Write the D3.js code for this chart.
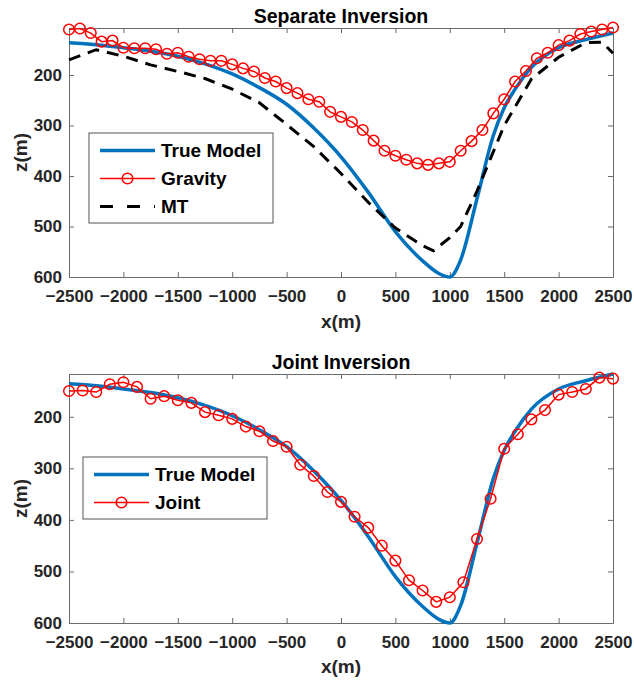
<!DOCTYPE html>
<html>
<head>
<meta charset="utf-8">
<script src="https://cdn.jsdelivr.net/npm/d3@7"></script>
<style>
body { margin: 0; background: #fff; }
text { font-family: "Liberation Sans", Arial, sans-serif; font-weight: bold; }
</style>
</head>
<body>
<div id="chart"></div>
<script>
// tick labels
var xTicks = [-2500, -2000, -1500, -1000, -500, 0, 500, 1000, 1500, 2000, 2500];
var zTicks = [200, 300, 400, 500, 600];

// true model (interface depth)
var trueX = [-2500, -2250, -2000, -1750, -1500, -1250, -1000, -750, -500, -250, 0, 250, 500, 750, 900, 1000, 1100, 1250, 1400, 1500, 1600, 1750, 2000, 2250, 2500];
var trueZ = [136, 140, 146, 153, 163, 178, 198, 225, 258, 305, 362, 432, 510, 568, 593, 600, 566, 445, 320, 265, 228, 185, 146, 130, 117];

// gravity separate inversion
var gravX = [-2500, -2400, -2300, -2200, -2100, -2000, -1900, -1800, -1700, -1600, -1500, -1400, -1300, -1200, -1100, -1000, -900, -800, -700, -600, -500, -400, -300, -200, -100, 0, 100, 200, 300, 400, 500, 600, 700, 800, 900, 1000, 1100, 1200, 1300, 1400, 1500, 1600, 1700, 1800, 1900, 2000, 2100, 2200, 2300, 2400, 2500];
var gravZ = [110, 108, 117, 134, 132, 146, 147, 147, 149, 158, 156, 164, 169, 172, 172, 179, 187, 193, 206, 213, 226, 236, 248, 253, 273, 283, 293, 309, 330, 350, 360, 368, 375, 378, 375, 372, 350, 331, 309, 276, 248, 213, 192, 167, 156, 141, 132, 119, 114, 110, 106];

// MT separate inversion
var mtX = [-2500, -2250, -2000, -1750, -1500, -1250, -1000, -750, -500, -250, 0, 250, 500, 750, 850, 1000, 1100, 1250, 1500, 1750, 2000, 2250, 2400, 2500];
var mtZ = [170, 150, 163, 180, 193, 207, 228, 255, 298, 342, 395, 452, 503, 538, 548, 522, 500, 430, 300, 208, 165, 136, 135, 157];

// joint inversion
var jointX = [-2500, -2375, -2250, -2125, -2000, -1875, -1750, -1625, -1500, -1375, -1250, -1125, -1000, -875, -750, -625, -500, -375, -250, -125, 0, 125, 250, 375, 500, 625, 750, 875, 1000, 1125, 1250, 1375, 1500, 1625, 1750, 1875, 2000, 2125, 2250, 2375, 2500];
var jointZ = [150, 149, 152, 137, 133, 142, 165, 160, 168, 173, 191, 197, 204, 219, 228, 247, 258, 293, 315, 346, 365, 394, 415, 450, 479, 517, 537, 559, 550, 521, 437, 359, 262, 234, 205, 187, 157, 152, 146, 124, 126];

var width = 634, height = 681;
var blue = '#0072BD', red = '#FF0000';

var svg = d3.select('#chart')
    .append('svg')
    .attr('width', width)
    .attr('height', height)
    .style('background', '#fff');

function drawPanel(p) {
    var x = d3.scaleLinear().domain([-2500, 2500]).range([69, 613]);
    var y = d3.scaleLinear().domain(p.zDomain).range([p.top, p.bottom]);
    var g = svg.append('g');

    // axes with inward ticks on all four sides
    var gx = g.append('g').attr('transform', 'translate(0,' + p.bottom + ')')
        .call(d3.axisBottom(x).tickValues(xTicks).tickFormat(d3.format('d'))
            .tickSizeInner(-5).tickSizeOuter(0).tickPadding(13));
    g.append('g').attr('transform', 'translate(0,' + p.top + ')')
        .call(d3.axisTop(x).tickValues(xTicks).tickSizeInner(-5).tickSizeOuter(0).tickFormat(''));
    var gy = g.append('g').attr('transform', 'translate(69,0)')
        .call(d3.axisLeft(y).tickValues(zTicks).tickFormat(d3.format('d'))
            .tickSizeInner(-5).tickSizeOuter(0).tickPadding(7));
    g.append('g').attr('transform', 'translate(613,0)')
        .call(d3.axisRight(y).tickValues(zTicks).tickSizeInner(-5).tickSizeOuter(0).tickFormat(''));
    g.selectAll('.domain, .tick line').style('stroke', '#6b6b6b');
    gx.selectAll('text').style('font-size', '17px').style('fill', '#262626');
    gy.selectAll('text').style('font-size', '17px').style('fill', '#262626');

    // titles and labels
    g.append('text').attr('x', 341).attr('y', p.titleY).attr('text-anchor', 'middle')
        .style('font-size', '19.5px').style('fill', '#000').text(p.title);
    g.append('text').attr('x', 341).attr('y', p.xLabelY).attr('text-anchor', 'middle')
        .style('font-size', '19px').style('fill', '#262626').text('x(m)');
    g.append('text').attr('transform', 'translate(27,' + ((p.top + p.bottom) / 2) + ') rotate(-90)')
        .attr('text-anchor', 'middle')
        .style('font-size', '19px').style('fill', '#262626').text('z(m)');

    var line = d3.line()
        .x(function (d) { return x(d[0]); })
        .y(function (d) { return y(d[1]); });

    // true model
    g.append('path')
        .attr('d', line.curve(d3.curveMonotoneX)(d3.zip(trueX, trueZ)))
        .style('stroke', blue).style('stroke-width', 3.5).style('fill', 'none');
    line.curve(d3.curveLinear);

    p.series.forEach(function (s) {
        var data = d3.zip(s.x, s.z);
        g.append('path')
            .attr('d', line(data))
            .style('stroke', s.color)
            .style('stroke-width', s.width)
            .style('stroke-dasharray', s.dash || null)
            .style('fill', 'none');
        if (s.marker) {
            g.append('g').selectAll('circle')
                .data(data)
                .enter()
                .append('circle')
                .attr('cx', function (d) { return x(d[0]); })
                .attr('cy', function (d) { return y(d[1]); })
                .attr('r', 5.3)
                .style('fill', 'none')
                .style('stroke', s.color)
                .style('stroke-width', 1.5);
        }
    });

    // legend
    var items = [{ name: 'True Model', color: blue, width: 3.5 }].concat(p.series);
    var lg = g.append('g');
    lg.append('rect')
        .attr('x', p.legend.x).attr('y', p.legend.y)
        .attr('width', p.legend.w).attr('height', 17 + 28 * (items.length - 1) + 17)
        .style('fill', '#fff').style('stroke', '#555').style('stroke-width', 1);
    items.forEach(function (s, i) {
        var cy = p.legend.y + 17.5 + i * 28;
        var x0 = p.legend.x + 11, x1 = p.legend.x + 66;
        lg.append('line').attr('x1', x0).attr('x2', x1).attr('y1', cy).attr('y2', cy)
            .style('stroke', s.color).style('stroke-width', s.width)
            .style('stroke-dasharray', s.legendDash || null);
        if (s.marker) {
            lg.append('circle').attr('cx', (x0 + x1) / 2).attr('cy', cy).attr('r', 5.3)
                .style('fill', 'none').style('stroke', s.color).style('stroke-width', 1.5);
        }
        lg.append('text').attr('x', p.legend.x + 72).attr('y', cy).attr('dy', '0.36em')
            .style('font-size', '19px').style('fill', '#000').text(s.name);
    });
}

drawPanel({
    top: 28, bottom: 277, zDomain: [107, 600],
    title: 'Separate Inversion', titleY: 22.5, xLabelY: 328,
    legend: { x: 89, y: 133, w: 184 },
    series: [
        { name: 'Gravity', x: gravX, z: gravZ, color: red, width: 1.5, marker: true },
        { name: 'MT', x: mtX, z: mtZ, color: '#000', width: 3, dash: '12,8', legendDash: '13,14' }
    ]
});

drawPanel({
    top: 374, bottom: 623, zDomain: [117, 600],
    title: 'Joint Inversion', titleY: 369, xLabelY: 673,
    legend: { x: 83, y: 457, w: 184 },
    series: [
        { name: 'Joint', x: jointX, z: jointZ, color: red, width: 1.5, marker: true }
    ]
});
</script>
</body>
</html>
